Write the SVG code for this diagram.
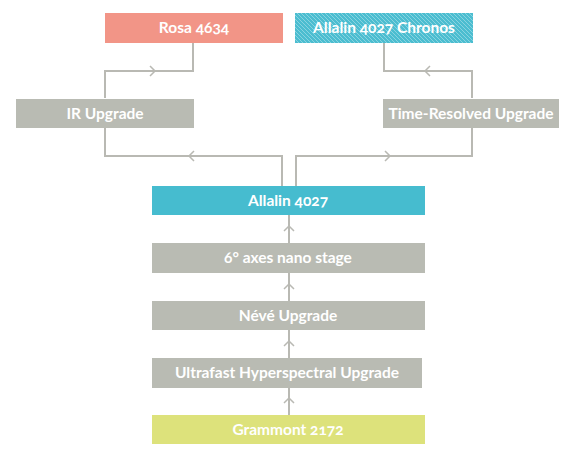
<svg xmlns="http://www.w3.org/2000/svg" width="573" height="457" viewBox="0 0 573 457">
<defs>
<pattern id="hatch" patternUnits="userSpaceOnUse" width="4" height="4">
<rect width="4" height="4" fill="#4bbdd0"/>
<path d="M-1,-1 L5,5 M-1,3 L1,5 M3,-1 L5,1" stroke="#8fd6e2" stroke-width="0.9"/>
</pattern>
</defs>
<style>
.lbl{font-family:Lato,"Open Sans","Liberation Sans",sans-serif;font-weight:700;font-size:15.5px;fill:#ffffff;text-anchor:middle;font-variant-numeric:oldstyle-nums}
.gray{fill:#b9bbb3}
.cn{fill:none;stroke:#b9b9b3;stroke-width:2}
.ah{fill:none;stroke:#b9b9b3;stroke-width:1.5}
</style>
<rect width="573" height="457" fill="#ffffff"/>
<g id="connectors">
<path class="cn" d="M105,98 V71 H193 V43"/>
<path class="ah" d="M150,66 L155,71 L150,76"/>
<path class="cn" d="M472,98 V71 H384 V43"/>
<path class="ah" d="M430,66 L425,71 L430,76"/>
<path class="cn" d="M282,186 V156 H105 V128"/>
<path class="ah" d="M194,151 L189,156 L194,161"/>
<path class="cn" d="M296,186 V156 H472 V128"/>
<path class="ah" d="M385,151 L390,156 L385,161"/>
<path class="cn" d="M289,415 V388 M289,358 V330 M289,301 V273 M289,243 V214"/>
<path class="ah" d="M284,403 L289,398 L294,403 M284,346 L289,341 L294,346 M284,289 L289,284 L294,289 M284,231 L289,226 L294,231"/>
</g>
<g id="rosa"><rect x="105" y="13" width="178" height="30" fill="#f29587"/><text class="lbl" x="194" y="33">Rosa 4634</text></g>
<g id="chronos"><rect x="295" y="13" width="178" height="30" fill="url(#hatch)"/><text class="lbl" x="384" y="33">Allalin 4027 Chronos</text></g>
<g id="ir"><rect class="gray" x="16" y="99" width="178" height="29"/><text class="lbl" x="105" y="118.5">IR Upgrade</text></g>
<g id="timeresolved"><rect class="gray" x="383" y="99" width="176" height="29"/><text class="lbl" x="471" y="118.5">Time-Resolved Upgrade</text></g>
<g id="allalin"><rect x="152" y="186" width="273" height="29" fill="#46bccf"/><text class="lbl" x="288" y="205.5">Allalin 4027</text></g>
<g id="axes"><rect class="gray" x="152" y="243" width="273" height="30"/><text class="lbl" x="288" y="263">6° axes nano stage</text></g>
<g id="neve"><rect class="gray" x="152" y="301" width="273" height="29"/><text class="lbl" x="288" y="320.5">Névé Upgrade</text></g>
<g id="ultrafast"><rect class="gray" x="152" y="358" width="270" height="30"/><text class="lbl" x="287" y="378">Ultrafast Hyperspectral Upgrade</text></g>
<g id="grammont"><rect x="152" y="415" width="273" height="29" fill="#dde27b"/><text class="lbl" x="288" y="434.5">Grammont 2172</text></g>
</svg>
